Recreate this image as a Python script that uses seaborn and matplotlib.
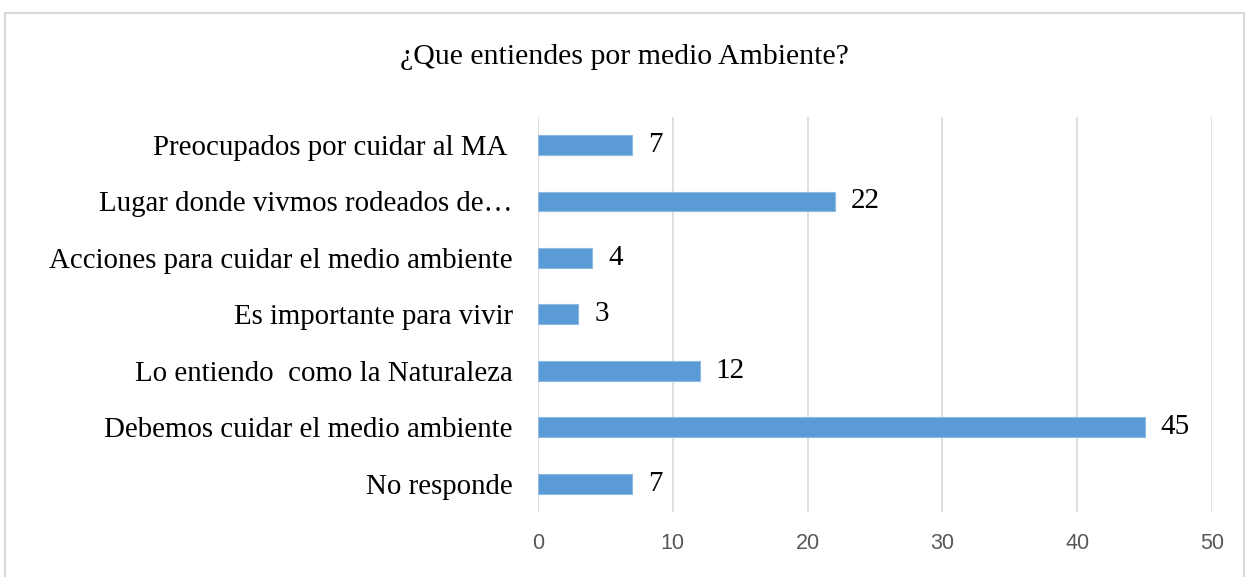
import matplotlib.pyplot as plt
import matplotlib.patches as patches
import seaborn as sns
import pandas as pd

# data (top to bottom)
categories = [
    "Preocupados por cuidar al MA ",
    "Lugar donde vivmos rodeados de…",
    "Acciones para cuidar el medio ambiente",
    "Es importante para vivir",
    "Lo entiendo  como la Naturaleza",
    "Debemos cuidar el medio ambiente",
    "No responde",
]
values = [7, 22, 4, 3, 12, 45, 7]
x_ticks = [0, 10, 20, 30, 40, 50]

df = pd.DataFrame({"categoria": categories, "valor": values})

sns.set_style("white")
serif = ["Liberation Serif", "DejaVu Serif"]
sans = ["Liberation Sans Narrow", "Liberation Sans", "DejaVu Sans"]

fig = plt.figure(figsize=(12.49, 5.77), dpi=100)
ax = fig.add_axes([0.4307, 0.1127, 0.5397, 0.685])

sns.barplot(data=df, x="valor", y="categoria", color="#5B9BD5", width=0.35,
            saturation=1, edgecolor="#8DB9E3", linewidth=0.8, ax=ax)

for bar, v in zip(ax.patches, values):
    ax.text(bar.get_width() + 1.2, bar.get_y() + bar.get_height() / 2, str(v),
            va="center", ha="left", fontsize=21, family=serif, color="black")

ax.set_xlim(0, 50)
ax.set_xticks(x_ticks)
ax.set_xticklabels([str(t) for t in x_ticks], family=sans, fontsize=15.5, color="#595959")
ax.set_yticklabels(categories, family=serif, fontsize=20.8, color="black")
ax.tick_params(axis="x", length=0, pad=15)
ax.tick_params(axis="y", length=0, pad=18)
ax.set_xlabel("")
ax.set_ylabel("")
ax.xaxis.grid(True, color="#D9D9D9", linewidth=1.2)
ax.set_axisbelow(True)
for s in ax.spines.values():
    s.set_visible(False)

fig.text(0.5, 0.902, "¿Que entiendes por medio Ambiente?", ha="center", va="center",
         fontsize=21.5, family=serif, color="black")

# light border around the chart area
fig.patches.append(patches.Rectangle((5 / 1249, -0.05), 1239 / 1249, 0.05 + 1 - 13 / 577,
                                     transform=fig.transFigure, fill=False,
                                     edgecolor="#D9D9D9", linewidth=1.5))

fig.savefig("out.png", dpi=100, facecolor="white")
